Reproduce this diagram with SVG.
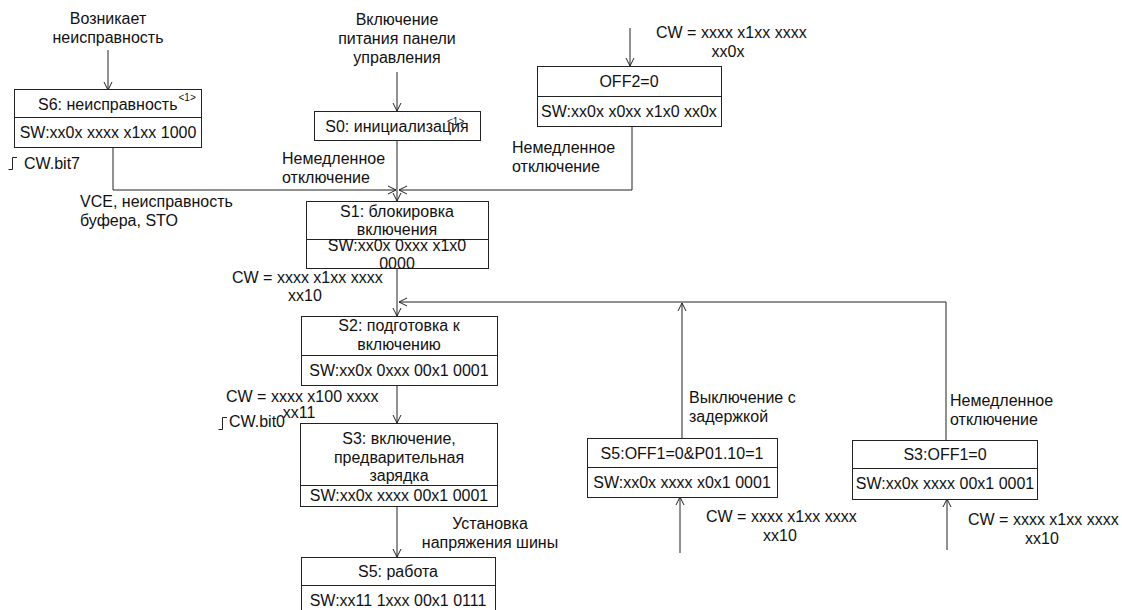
<svg xmlns="http://www.w3.org/2000/svg" width="1122" height="610" viewBox="0 0 1122 610">
<style>
text{font-family:"Liberation Sans",Arial,sans-serif;font-size:16px;fill:#111}
.m{text-anchor:middle}
.box{fill:#fff;stroke:#222;stroke-width:1}
.ln{fill:none;stroke:#222;stroke-width:1}
.sup{font-size:10px}
</style>
<defs>
<marker id="ar" markerWidth="10" markerHeight="10" refX="9" refY="5" orient="auto" markerUnits="userSpaceOnUse">
<path d="M1,1 L9,5 L1,9" fill="none" stroke="#222" stroke-width="1"/>
</marker>
</defs>
<rect width="1122" height="610" fill="#fff"/>

<g id="connectors">
<line class="ln" x1="108" y1="50" x2="108" y2="90" marker-end="url(#ar)"/>
<line class="ln" x1="397" y1="72" x2="397" y2="111" marker-end="url(#ar)"/>
<line class="ln" x1="630" y1="28" x2="630" y2="66" marker-end="url(#ar)"/>
<polyline class="ln" points="113,147 113,190 396,190" marker-end="url(#ar)"/>
<polyline class="ln" points="632,127 632,190 399,190" marker-end="url(#ar)"/>
<line class="ln" x1="397" y1="141" x2="397" y2="201" marker-end="url(#ar)"/>
<line class="ln" x1="397" y1="268" x2="397" y2="316" marker-end="url(#ar)"/>
<polyline class="ln" points="946,440 946,302 399,302" marker-end="url(#ar)"/>
<line class="ln" x1="682" y1="438" x2="682" y2="303" marker-end="url(#ar)"/>
<line class="ln" x1="397" y1="385" x2="397" y2="423" marker-end="url(#ar)"/>
<line class="ln" x1="397" y1="507" x2="397" y2="557" marker-end="url(#ar)"/>
<line class="ln" x1="680" y1="553" x2="680" y2="497" marker-end="url(#ar)"/>
<line class="ln" x1="947" y1="550" x2="947" y2="499" marker-end="url(#ar)"/>
</g>

<g id="labels">
<text class="m" x="108" y="24">Возникает</text>
<text class="m" x="108" y="43">неисправность</text>
<text class="m" x="397" y="25">Включение</text>
<text class="m" x="397" y="44">питания панели</text>
<text class="m" x="397" y="63">управления</text>
<text x="656" y="38">CW = xxxx x1xx xxxx</text>
<text class="m" x="728" y="57">xx0x</text>
<path class="ln" d="M8.5,169.5 H12.5 V157.5 H17"/>
<text x="24" y="169">CW.bit7</text>
<text x="80" y="207">VCE, неисправность</text>
<text x="80" y="226">буфера, STO</text>
<text x="282" y="164">Немедленное</text>
<text x="282" y="183">отключение</text>
<text x="512" y="153">Немедленное</text>
<text x="512" y="172">отключение</text>
<text x="232" y="283">CW = xxxx x1xx xxxx</text>
<text class="m" x="305" y="301">xx10</text>
<text x="226" y="402">CW = xxxx x100 xxxx</text>
<text class="m" x="299" y="418">xx11</text>
<path class="ln" d="M218.5,429.5 H222.5 V417.5 H227"/>
<text x="229" y="427">CW.bit0</text>
<text class="m" x="490" y="529">Установка</text>
<text class="m" x="490" y="548">напряжения шины</text>
<text x="689" y="403">Выключение с</text>
<text x="689" y="422">задержкой</text>
<text x="706" y="522">CW = xxxx x1xx xxxx</text>
<text class="m" x="780" y="541">xx10</text>
<text x="950" y="406">Немедленное</text>
<text x="950" y="425">отключение</text>
<text x="968" y="525">CW = xxxx x1xx xxxx</text>
<text class="m" x="1042" y="544">xx10</text>
</g>

<g id="S6">
<rect class="box" x="14.5" y="89.5" width="187" height="58"/>
<line class="ln" x1="14.5" y1="117.5" x2="201.5" y2="117.5"/>
<text x="38" y="110">S6: неисправность<tspan class="sup" dx="1" dy="-9">&lt;1&gt;</tspan></text>
<text class="m" x="108" y="138">SW:xx0x xxxx x1xx 1000</text>
</g>

<g id="S0">
<rect class="box" x="314.5" y="111.5" width="166" height="29"/>
<text class="m" x="397" y="132">S0: инициализация</text>
<text class="sup" x="447" y="125">&lt;1&gt;</text>
</g>

<g id="OFF2">
<rect class="box" x="537.5" y="66.5" width="184" height="60"/>
<line class="ln" x1="537.5" y1="96.5" x2="721.5" y2="96.5"/>
<text class="m" x="629" y="87">OFF2=0</text>
<text class="m" x="629" y="117">SW:xx0x x0xx x1x0 xx0x</text>
</g>

<g id="S1">
<rect class="box" x="306.5" y="201.5" width="182" height="67"/>
<line class="ln" x1="306.5" y1="239.5" x2="488.5" y2="239.5"/>
<text class="m" x="397" y="217">S1: блокировка</text>
<text class="m" x="397" y="235">включения</text>
<text class="m" x="397" y="251">SW:xx0x 0xxx x1x0</text>
<text class="m" x="397" y="269">0000</text>
</g>

<g id="S2">
<rect class="box" x="301.5" y="316.5" width="196" height="69"/>
<line class="ln" x1="301.5" y1="355.5" x2="497.5" y2="355.5"/>
<text class="m" x="399" y="331">S2: подготовка к</text>
<text class="m" x="399" y="350">включению</text>
<text class="m" x="399" y="376">SW:xx0x 0xxx 00x1 0001</text>
</g>

<g id="S3">
<rect class="box" x="300.5" y="423.5" width="197" height="83"/>
<line class="ln" x1="300.5" y1="485.5" x2="497.5" y2="485.5"/>
<text class="m" x="399" y="444">S3: включение,</text>
<text class="m" x="399" y="463">предварительная</text>
<text class="m" x="399" y="481">зарядка</text>
<text class="m" x="399" y="501">SW:xx0x xxxx 00x1 0001</text>
</g>

<g id="S5">
<rect class="box" x="301.5" y="557.5" width="194" height="62"/>
<line class="ln" x1="301.5" y1="585.5" x2="495.5" y2="585.5"/>
<text class="m" x="398" y="577">S5: работа</text>
<text class="m" x="398" y="606">SW:xx11 1xxx 00x1 0111</text>
</g>

<g id="S5b">
<rect class="box" x="587.5" y="438.5" width="190" height="59"/>
<line class="ln" x1="587.5" y1="467.5" x2="777.5" y2="467.5"/>
<text class="m" x="682" y="459">S5:OFF1=0&amp;P01.10=1</text>
<text class="m" x="682" y="488">SW:xx0x xxxx x0x1 0001</text>
</g>

<g id="S3b">
<rect class="box" x="852.5" y="440.5" width="185" height="59"/>
<line class="ln" x1="852.5" y1="468.5" x2="1037.5" y2="468.5"/>
<text class="m" x="945" y="460">S3:OFF1=0</text>
<text class="m" x="945" y="489">SW:xx0x xxxx 00x1 0001</text>
</g>
</svg>
